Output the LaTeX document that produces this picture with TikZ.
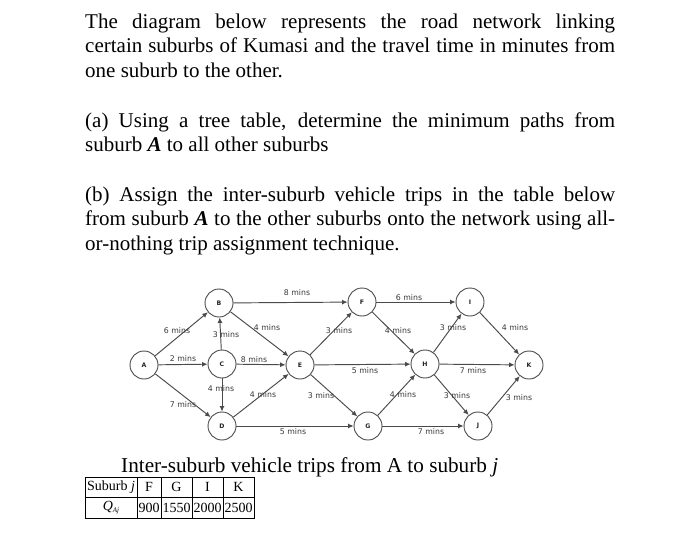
\documentclass[tikz,border=0pt]{standalone}
\usepackage{xcolor}
\usepackage{fontspec}
\setmainfont{Liberation Serif}
\newfontfamily\netfont{DejaVu Sans}
\usetikzlibrary{arrows.meta, positioning}

\definecolor{netgray}{HTML}{4A4A4A}

\begin{document}
\begin{tikzpicture}[
        x=1pt, y=-1pt,
        para/.style={anchor=north west, inner sep=0pt, text width=530pt, align=justify, font=\fontsize{21}{24.5}\selectfont},
        suburb/.style={draw=netgray, circle, line width=0.9pt, minimum size=28pt, inner sep=0pt, fill=white, text=black!85, font=\netfont\bfseries\fontsize{6.2}{7}\selectfont},
        lbl/.style={inner sep=0pt, text=black!78, font=\netfont\fontsize{7.8}{9}\selectfont},
        arrow/.style={-{Latex[length=5.5pt,width=5pt]}, line width=0.95pt, draw=netgray},
        cell/.style={inner sep=0pt, font=\fontsize{14}{17}\selectfont}
    ]
        \useasboundingbox (0,0) rectangle (700,545);

        % Question text
        \node (intro) [para] at (85,13.5) {The diagram below represents the road network linking\linebreak certain suburbs of Kumasi and the travel time in minutes from\linebreak one suburb to the other.};
        \node (parta) [para] at (85,112.5) {(a) Using a tree table, determine the minimum paths from\linebreak suburb \textbf{\textit{A}} to all other suburbs};
        \node (partb) [para] at (85,186.5) {(b) Assign the inter-suburb vehicle trips in the table below\linebreak from suburb \textbf{\textit{A}} to the other suburbs onto the network using all-\linebreak or-nothing trip assignment technique.};

        % Suburbs
        \node (A) [suburb] at (144,365) {A};
        \node (B) [suburb] at (219,303) {B};
        \node (C) [suburb] at (222,364) {C};
        \node (D) [suburb] at (222,426) {D};
        \node (E) [suburb] at (300,365) {E};
        \node (F) [suburb] at (362,302) {F};
        \node (G) [suburb] at (368,426) {G};
        \node (H) [suburb] at (425,364) {H};
        \node (I) [suburb] at (470,302) {I};
        \node (J) [suburb] at (478,426) {J};
        \node (K) [suburb] at (529,365) {K};

        % Roads
        \draw [arrow] (A) -- (B) node[lbl, at={(177,331)}] (ab) {6 mins};
        \draw [arrow] (A) -- (C) node[lbl, at={(183,359)}] (ac) {2 mins};
        \draw [arrow] (A) -- (D) node[lbl, at={(183,405)}] (ad) {7 mins};
        \draw [arrow] (C) -- (B) node[lbl, at={(226,335)}] (cb) {3 mins};
        \draw [arrow] (C) -- (D) node[lbl, at={(221,389)}] (cd) {4 mins};
        \draw [arrow] (C) -- (E) node[lbl, at={(254,360)}] (ce) {8 mins};
        \draw [arrow] (B) -- (E) node[lbl, at={(267,328)}] (be) {4 mins};
        \draw [arrow] (B) -- (F) node[lbl, at={(297,293)}] (bf) {8 mins};
        \draw [arrow] (D) -- (E) node[lbl, at={(263,395)}] (de) {4 mins};
        \draw [arrow] (D) -- (G) node[lbl, at={(293,432)}] (dg) {5 mins};
        \draw [arrow] (E) -- (F) node[lbl, at={(339,331)}] (ef) {3 mins};
        \draw [arrow] (E) -- (G) node[lbl, at={(321,396)}] (eg) {3 mins};
        \draw [arrow] (E) -- (H) node[lbl, at={(365,371)}] (eh) {5 mins};
        \draw [arrow] (F) -- (I) node[lbl, at={(409,298)}] (fi) {6 mins};
        \draw [arrow] (F) -- (H) node[lbl, at={(398,331)}] (fh) {4 mins};
        \draw [arrow] (G) -- (H) node[lbl, at={(403,395)}] (gh) {4 mins};
        \draw [arrow] (G) -- (J) node[lbl, at={(431,432)}] (gj) {7 mins};
        \draw [arrow] (H) -- (I) node[lbl, at={(453,328)}] (hi) {3 mins};
        \draw [arrow] (H) -- (J) node[lbl, at={(457,396)}] (hj) {3 mins};
        \draw [arrow] (H) -- (K) node[lbl, at={(473,371)}] (hk) {7 mins};
        \draw [arrow] (I) -- (K) node[lbl, at={(515,328)}] (ik) {4 mins};
        \draw [arrow] (J) -- (K) node[lbl, at={(519,398)}] (jk) {3 mins};

        % Trip table
        \node (caption) [anchor=base west, inner sep=0pt, font=\fontsize{21.2}{24}\selectfont] at (121,472) {Inter-suburb vehicle trips from A to suburb \textit{j}};
        \draw [line width=1pt] (85,477) rectangle (254,518);
        \draw [line width=1pt] (85,497) -- (254,497);
        \draw [line width=1pt] (137,477) -- (137,518);
        \draw [line width=1pt] (161,477) -- (161,518);
        \draw [line width=1pt] (192,477) -- (192,518);
        \draw [line width=1pt] (223,477) -- (223,518);
        \node (head) [cell] at (111,487) {Suburb \textit{j}};
        \node (hF) [cell] at (149,487) {F};
        \node (hG) [cell] at (176.5,487) {G};
        \node (hI) [cell] at (207.5,487) {I};
        \node (hK) [cell] at (238.5,487) {K};
        \node (qaj) [cell] at (111,507.5) {\textit{Q}\raisebox{-2.5pt}{\fontsize{7}{8}\selectfont\textit{Aj}}};
        \node (vF) [cell] at (149,507.5) {900};
        \node (vG) [cell] at (176.5,507.5) {1550};
        \node (vI) [cell] at (207.5,507.5) {2000};
        \node (vK) [cell] at (238.5,507.5) {2500};
    \end{tikzpicture}
\end{document}
